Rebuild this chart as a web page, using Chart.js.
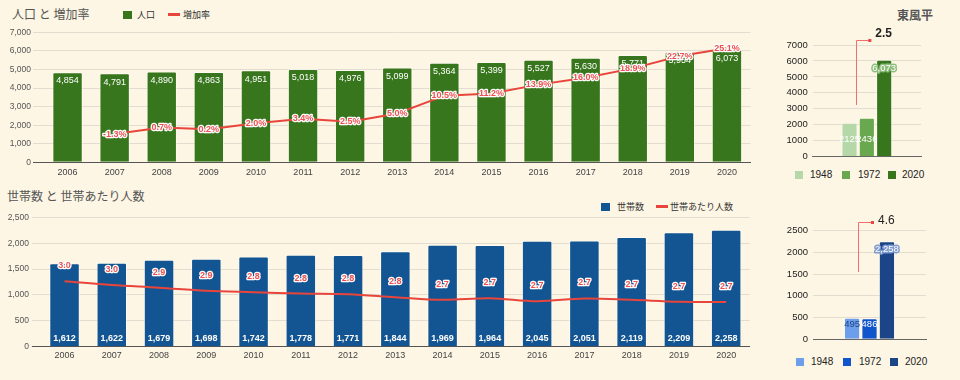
<!DOCTYPE html>
<html><head><meta charset="utf-8">
<script src="https://cdn.jsdelivr.net/npm/chart.js@4"></script>
<style>
html,body{margin:0;padding:0;background:#fdf6e4;}
body{width:960px;height:380px;position:relative;overflow:hidden;font-family:"Liberation Sans",Arial,"Noto Sans CJK JP",sans-serif;}
canvas{position:absolute;}
.t{position:absolute;white-space:nowrap;line-height:1;font-family:"Noto Sans CJK JP","Liberation Sans",sans-serif;}
.n{position:absolute;white-space:nowrap;line-height:1;font-family:"Liberation Sans",Arial,sans-serif;}
.sq{position:absolute;}
</style>
</head><body>
<div class="t" style="left:12px;top:8px;font-size:12px;color:#555;">人口 と 増加率</div>
<div class="sq" style="left:123px;top:11px;width:9px;height:8px;background:#38761d;"></div>
<div class="t" style="left:137px;top:10px;font-size:9px;color:#333;">人口</div>
<div class="sq" style="left:168px;top:13px;width:12px;height:3px;background:#e8453c;"></div>
<div class="t" style="left:183px;top:10px;font-size:9px;color:#333;">増加率</div>

<div class="t" style="left:7px;top:190px;font-size:12px;color:#555;">世帯数 と 世帯あたり人数</div>
<div class="sq" style="left:601px;top:203px;width:9px;height:8px;background:#135592;"></div>
<div class="t" style="left:617px;top:202px;font-size:9px;color:#333;">世帯数</div>
<div class="sq" style="left:656px;top:205px;width:12px;height:3px;background:#e8453c;"></div>
<div class="t" style="left:670px;top:202px;font-size:9px;color:#333;">世帯あたり人数</div>

<div class="t" id="areaTitle" style="left:897px;top:9px;font-size:12px;font-weight:bold;color:#555;"></div>
<div id="legTop"></div>
<div id="legBot"></div>

<canvas id="cPop" width="760" height="164" style="left:0;top:24px;"></canvas>
<canvas id="cHH" width="760" height="180" style="left:0;top:200px;"></canvas>
<canvas id="cPopCmp" width="200" height="150" style="left:760px;top:20px;"></canvas>
<canvas id="cHHCmp" width="200" height="145" style="left:760px;top:205px;"></canvas>

<script>
// ---- data ----
const years = ['2006','2007','2008','2009','2010','2011','2012','2013','2014','2015','2016','2017','2018','2019','2020'];
const population = [4854,4791,4890,4863,4951,5018,4976,5099,5364,5399,5527,5630,5771,5954,6073];
const growthRate = [null,-1.3,0.7,0.2,2.0,3.4,2.5,5.0,10.5,11.2,13.9,16.0,18.9,22.7,25.1];
const households = [1612,1622,1679,1698,1742,1778,1771,1844,1969,1964,2045,2051,2119,2209,2258];
const perHousehold = [3.011,2.954,2.912,2.864,2.842,2.822,2.810,2.765,2.724,2.749,2.703,2.745,2.724,2.695,2.690];
const popAxis = [0,7000,1000];
const hhAxis = [0,2500,500];
const areaName = '東風平';
const compareYears = ['1948','1972','2020'];
const comparePop = [2125,2436,6073];
const compareHH = [495,486,2258];
const popRatio = '2.5';
const hhRatio = '4.6';

// ---- styling ----
const GREEN = '#38761d', BLUE = '#135592', RED = '#e8453c', LRED = '#ec5050';
const greens = ['#b6d7a8','#6aa84f','#38761d'];
const blues = ['#6d9eeb','#1155cc','#1c4587'];
const GRID = '#e2ddd0';
Chart.defaults.font.family = '"Liberation Sans", Arial, "Noto Sans CJK JP", sans-serif';
Chart.defaults.animation = false;
Chart.defaults.plugins.legend.display = false;
Chart.defaults.plugins.tooltip.enabled = false;

document.getElementById('areaTitle').textContent = areaName;
function legend(id, colors, top, sqLeft, txtLeft) {
  const el = document.getElementById(id);
  compareYears.forEach((y, i) => {
    const s = document.createElement('div'); s.className = 'sq';
    s.style.cssText = `left:${sqLeft[i]}px;top:${top}px;width:8px;height:8px;background:${colors[i]};`;
    const t = document.createElement('div'); t.className = 'n';
    t.style.cssText = `left:${txtLeft[i]}px;top:${top-1}px;font-size:10px;color:#222;`;
    t.textContent = y;
    el.appendChild(s); el.appendChild(t);
  });
}
legend('legTop', greens, 171, [795,842,888], [810,858,902]);
legend('legBot', blues, 358, [796,843,890], [811,859,905]);

const labelPlugin = {
  id: 'vlabels',
  afterDatasetsDraw(chart) {
    const ctx = chart.ctx;
    chart.data.datasets.forEach((ds, i) => {
      const c = ds.lbl; if (!c) return;
      const meta = chart.getDatasetMeta(i);
      meta.data.forEach((el, j) => {
        const v = ds.data[j]; if (v == null) return;
        const text = c.fmt(v);
        const y = (c.pos === 'base' ? el.base : el.y) + c.dy;
        ctx.save();
        ctx.font = c.font; ctx.textAlign = 'center'; ctx.textBaseline = 'middle';
        if (c.stroke) { ctx.lineJoin = 'round'; ctx.lineWidth = c.sw || 3; ctx.strokeStyle = c.stroke; ctx.strokeText(text, el.x, y); }
        ctx.fillStyle = c.color; ctx.fillText(text, el.x, y);
        ctx.restore();
      });
    });
  }
};
const bracketPlugin = {
  id: 'bracket',
  afterDatasetsDraw(chart, args, o) {
    if (!o || !o.text) return;
    const ctx = chart.ctx, ys = chart.scales.y, top = chart.chartArea.top;
    const b0 = chart.getDatasetMeta(0).data[0], b1 = chart.getDatasetMeta(1).data[0];
    const x0 = Math.round(b0.x + b0.width / 2 - 2), x1 = b1.x + 2.5;
    const yb = ys.getPixelForValue(o.from), yt = Math.round(top - o.up);
    ctx.save();
    ctx.strokeStyle = '#f26d6d'; ctx.lineWidth = 1;
    ctx.beginPath(); ctx.moveTo(x0 + 0.5, yb); ctx.lineTo(x0 + 0.5, yt + 0.5); ctx.lineTo(x1, yt + 0.5); ctx.stroke();
    ctx.fillStyle = '#ee4444'; ctx.fillRect(x1 - 1, yt - 1, 3, 3);
    ctx.fillStyle = '#222'; ctx.font = (o.bold ? 'bold ' : '') + '12px "Liberation Sans", Arial, sans-serif';
    ctx.textAlign = 'left'; ctx.textBaseline = 'middle';
    ctx.fillText(o.text, x1 + 6, top - o.textUp);
    ctx.restore();
  }
};
const comma = v => Number(v).toLocaleString('en-US');
const plain = v => String(v);

function mainChart(id, opt) {
  return new Chart(document.getElementById(id), {
    data: {
      labels: years,
      datasets: [
        { type: 'line', data: opt.lineData, yAxisID: 'y1', order: 0, borderColor: RED, borderWidth: 2,
          pointRadius: 0, tension: opt.tension, lbl: opt.lineLbl },
        { type: 'bar', data: opt.barData, yAxisID: 'y', order: 1, backgroundColor: opt.barColor,
          borderColor: 'rgba(255,255,255,0.55)', borderWidth: 1, borderRadius: 2, borderSkipped: 'bottom',
          barPercentage: 0.645, categoryPercentage: 1, lbl: opt.barLbl }
      ]
    },
    options: {
      responsive: false,
      layout: { padding: { top: opt.padTop, right: opt.padRight, left: 0, bottom: 0 } },
      scales: {
        x: { grid: { display: false, drawTicks: false }, border: { color: '#555' },
             ticks: { color: '#444', font: { size: 9 }, padding: opt.xPad, maxRotation: 0, autoSkip: false },
             afterFit: s => { s.height = opt.xH; } },
        y: { min: opt.axis[0], max: opt.axis[1], border: { display: false },
             grid: { color: c => c.tick && c.tick.value === 0 ? '#555' : GRID, tickColor: c => c.tick && c.tick.value === 0 ? '#555' : GRID,
                     drawTicks: true, tickLength: opt.tickLen },
             ticks: { stepSize: opt.axis[2], color: '#555', font: { size: 8.5 }, padding: opt.yPad, callback: comma },
             afterFit: s => { s.width = opt.yW; } },
        y1: { display: false, min: opt.y1[0], max: opt.y1[1] }
      }
    },
    plugins: [labelPlugin]
  });
}

mainChart('cPop', {
  lineData: growthRate, barData: population, barColor: GREEN, tension: 0,
  axis: popAxis, y1: [-10, 30],
  padTop: 8.3, padRight: 9.5, xH: 25.7, xPad: 5, yW: 44, tickLen: 11, yPad: 2,
  barLbl: { pos: 'top', dy: 8.8, font: '9px "Liberation Sans", Arial, sans-serif', color: '#fff', fmt: comma },
  lineLbl: { pos: 'top', dy: 0, font: 'bold 9px "Liberation Sans", Arial, sans-serif', color: LRED, stroke: '#fff', sw: 2.5, fmt: v => v.toFixed(1) + '%' }
});
mainChart('cHH', {
  lineData: perHousehold, barData: households, barColor: BLUE, tension: 0.35,
  axis: hhAxis, y1: [2, 4],
  padTop: 17.3, padRight: 10.2, xH: 33.3, xPad: 3.5, yW: 40.9, tickLen: 9, yPad: 3,
  barLbl: { pos: 'base', dy: -8, font: 'bold 9px "Liberation Sans", Arial, sans-serif', color: '#fff', fmt: comma },
  lineLbl: { pos: 'top', dy: -15.5, font: 'bold 9px "Liberation Sans", Arial, sans-serif', color: LRED, stroke: '#fff', sw: 2.5, fmt: v => v.toFixed(1) }
});

function cmpChart(id, opt) {
  return new Chart(document.getElementById(id), {
    type: 'bar',
    data: {
      labels: [''],
      datasets: compareYears.map((y, i) => ({
        label: y, data: [opt.values[i]], backgroundColor: opt.colors[i],
        borderColor: 'rgba(255,255,255,0.55)', borderWidth: 1, borderRadius: 2, borderSkipped: 'bottom',
        barPercentage: 0.93, categoryPercentage: opt.catPct, lbl: opt.lbls[i]
      }))
    },
    options: {
      responsive: false,
      layout: { padding: { top: opt.padTop, right: opt.padRight, left: 0, bottom: 0 } },
      scales: {
        x: { grid: { display: false, drawTicks: false }, border: { color: '#666' }, ticks: { display: false },
             afterFit: s => { s.height = opt.xH; } },
        y: { min: opt.axis[0], max: opt.axis[1], border: { display: false },
             grid: { color: c => c.tick && c.tick.value === 0 ? '#666' : GRID, drawTicks: false },
             ticks: { stepSize: opt.axis[2], color: '#222', font: { size: 9.5 }, padding: 5, callback: plain },
             afterFit: s => { s.width = opt.yW; } }
      },
      plugins: { bracket: opt.bracket }
    },
    plugins: [labelPlugin, bracketPlugin]
  });
}
const F9 = '9.5px "Liberation Sans", Arial, sans-serif';
cmpChart('cPopCmp', {
  values: comparePop, colors: greens, axis: popAxis, catPct: 0.48,
  padTop: 25, padRight: 39, xH: 13.3, yW: 52.7,
  lbls: [
    { pos: 'base', dy: -16.7, font: F9, color: '#fff', fmt: plain },
    { pos: 'base', dy: -16.7, font: F9, color: '#fff', fmt: plain },
    { pos: 'top', dy: 9, font: F9, color: '#fff', stroke: '#8fbd7c', sw: 3, fmt: comma }
  ],
  bracket: { from: 3240, up: 5.3, text: popRatio, textUp: 11.7, bold: true }
});
cmpChart('cHHCmp', {
  values: compareHH, colors: blues, axis: hhAxis, catPct: 0.463,
  padTop: 25.7, padRight: 34, xH: 7.3, yW: 53,
  lbls: [
    { pos: 'base', dy: -14.7, font: F9, color: '#1c4587', fmt: plain },
    { pos: 'base', dy: -14.7, font: F9, color: '#fff', fmt: plain },
    { pos: 'top', dy: 7.8, font: F9, color: '#fff', stroke: '#7d9bcf', sw: 3, fmt: comma }
  ],
  bracket: { from: 1549, up: 8.7, text: hhRatio, textUp: 9.7, bold: false }
});
</script>
</body></html>
